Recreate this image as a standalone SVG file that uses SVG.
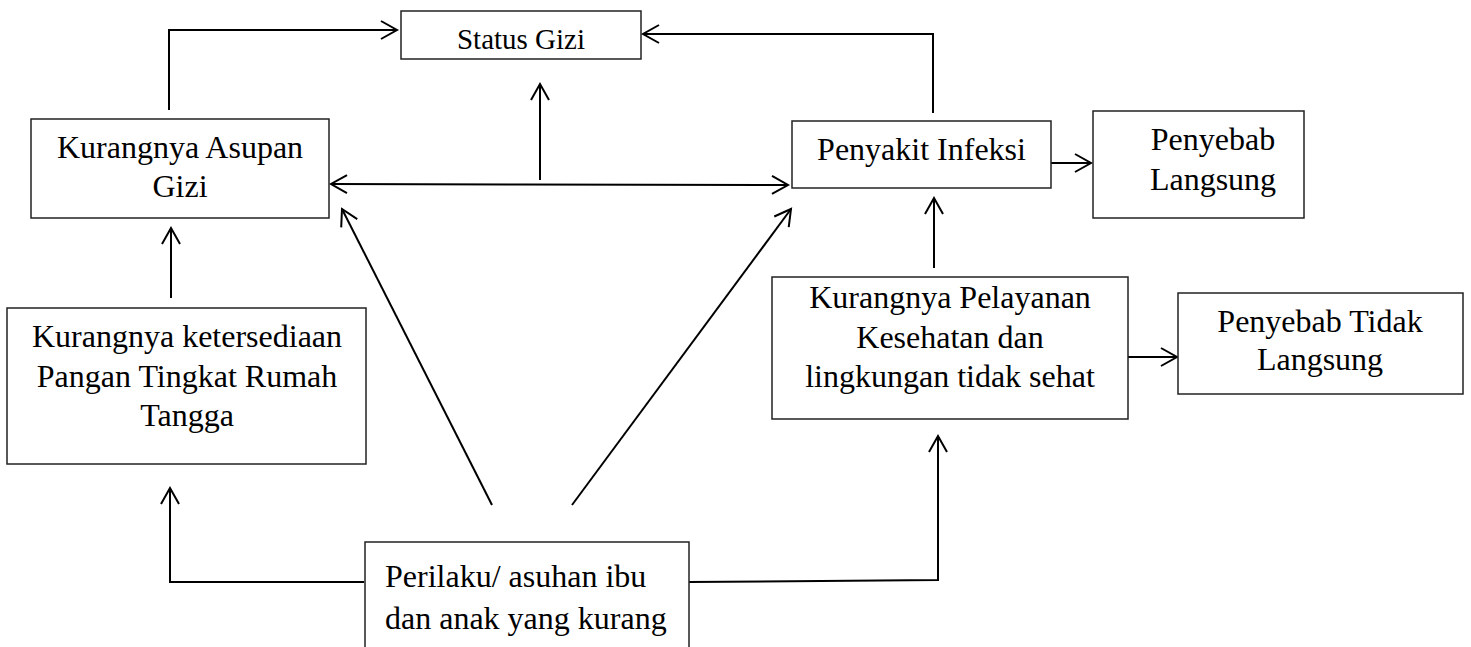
<svg xmlns="http://www.w3.org/2000/svg" width="1471" height="647" viewBox="0 0 1471 647">
<style>
.box{fill:#fff;stroke:#222;stroke-width:1.5}
.t{font-family:"Liberation Serif","Times New Roman",serif;font-size:32px;fill:#000;text-anchor:middle}
.c{fill:none;stroke:#000;stroke-width:2;marker-end:url(#arr)}
</style>
<defs>
<marker id="arr" markerWidth="22" markerHeight="22" viewBox="-19 -11 22 22" refX="0" refY="0" orient="auto-start-reverse" markerUnits="userSpaceOnUse">
<path d="M-16,-9 L0,0 L-16,9" fill="none" stroke="#000" stroke-width="2"/>
</marker>
</defs>
<rect width="1471" height="647" fill="#fff"/>
<g id="connectors">
<polyline class="c" points="169,110 169,30 397,30"/>
<polyline class="c" points="933,113 933,34 643,34"/>
<line class="c" x1="540" y1="180" x2="540" y2="84"/>
<line class="c" x1="522" y1="184.5" x2="788" y2="185"/>
<line class="c" x1="522" y1="184.5" x2="331" y2="184"/>
<line class="c" x1="492" y1="505" x2="342" y2="209"/>
<line class="c" x1="572" y1="505" x2="791" y2="209"/>
<line class="c" x1="171" y1="298" x2="171" y2="228"/>
<polyline class="c" points="364,582 170,582 170,488"/>
<polyline class="c" points="689,582 938,580 938,436"/>
<line class="c" x1="934" y1="268" x2="934" y2="198"/>
<line class="c" x1="1051" y1="163" x2="1091" y2="163"/>
<line class="c" x1="1128" y1="357" x2="1177" y2="357"/>
</g>
<g id="status-gizi">
<rect class="box" x="401" y="11" width="240" height="48"/>
<text class="t" x="521" y="49" style="font-size:29px">Status Gizi</text>
</g>
<g id="kurang-asupan">
<rect class="box" x="31" y="119" width="298" height="99"/>
<text class="t" x="180" y="158">Kurangnya Asupan</text>
<text class="t" x="180" y="197">Gizi</text>
</g>
<g id="penyakit-infeksi">
<rect class="box" x="792" y="121" width="259" height="67"/>
<text class="t" x="921.5" y="160">Penyakit Infeksi</text>
</g>
<g id="penyebab-langsung">
<rect class="box" x="1093" y="111" width="211" height="107"/>
<text class="t" x="1213" y="150">Penyebab</text>
<text class="t" x="1213" y="190">Langsung</text>
</g>
<g id="kurang-ketersediaan">
<rect class="box" x="7" y="308" width="359" height="156"/>
<text class="t" x="187" y="347">Kurangnya ketersediaan</text>
<text class="t" x="187" y="387">Pangan Tingkat Rumah</text>
<text class="t" x="187" y="426">Tangga</text>
</g>
<g id="kurang-pelayanan">
<rect class="box" x="772" y="277" width="356" height="142"/>
<text class="t" x="950" y="308">Kurangnya Pelayanan</text>
<text class="t" x="950" y="348">Kesehatan dan</text>
<text class="t" x="950" y="387">lingkungan tidak sehat</text>
</g>
<g id="penyebab-tidak-langsung">
<rect class="box" x="1178" y="293" width="285" height="101"/>
<text class="t" x="1320" y="332">Penyebab Tidak</text>
<text class="t" x="1320" y="370">Langsung</text>
</g>
<g id="perilaku">
<rect class="box" x="365" y="542" width="324" height="120"/>
<text class="t" x="385" y="587" style="text-anchor:start">Perilaku/ asuhan ibu</text>
<text class="t" x="385" y="629" style="text-anchor:start">dan anak yang kurang</text>
</g>
</svg>
